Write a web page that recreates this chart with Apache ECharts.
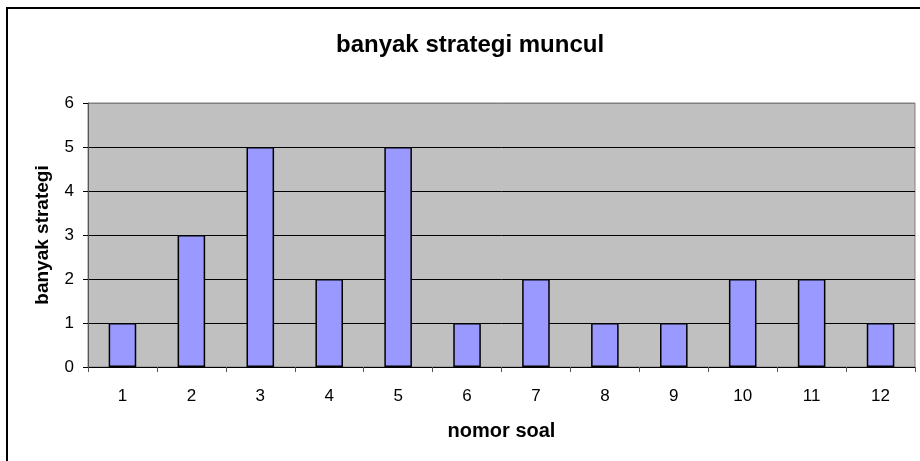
<!DOCTYPE html>
<html>
<head>
<meta charset="utf-8">
<script src="https://cdn.jsdelivr.net/npm/echarts@6/dist/echarts.min.js"></script>
<style>html,body{margin:0;padding:0;background:#fff}#c{width:920px;height:461px}</style>
</head>
<body>
<div id="c"></div>
<script>
const categories = ['1','2','3','4','5','6','7','8','9','10','11','12'];
const values = [1,3,5,2,5,1,2,1,1,2,2,1];
const yTicks = [0,1,2,3,4,5,6];
const chartTitle = 'banyak strategi muncul';
const xName = 'nomor soal';
const yName = 'banyak strategi';

const chart = echarts.init(document.getElementById('c'), null, {renderer: 'canvas'});
const font = 'Liberation Sans, Arial, sans-serif';
chart.setOption({
  animation: false,
  backgroundColor: '#fff',
  title: {
    text: chartTitle, left: 331, top: 28,
    textStyle: {fontFamily: font, fontWeight: 'bold', fontSize: 24, color: '#000'}
  },
  graphic: [{
    type: 'rect', shape: {x: 7, y: 8, width: 1000, height: 1000},
    style: {fill: 'none', stroke: '#000', lineWidth: 2}, z: 100
  }],
  grid: {left: 88, right: 5, top: 103, bottom: 94, show: true,
    backgroundColor: '#c0c0c0', borderColor: '#808080', borderWidth: 1},
  xAxis: {
    type: 'category', data: categories, boundaryGap: true,
    name: xName, nameLocation: 'middle', nameGap: 54, nameMoveOverlap: false,
    nameTextStyle: {fontFamily: font, fontWeight: 'bold', fontSize: 20, color: '#000'},
    axisLine: {lineStyle: {color: '#000', width: 1}},
    axisTick: {show: true, interval: 0, length: 5, lineStyle: {color: '#555'}},
    axisLabel: {fontFamily: font, fontSize: 17, color: '#000', margin: 21, interval: 0},
    splitLine: {show: false}
  },
  yAxis: {
    type: 'value', min: yTicks[0], max: yTicks[yTicks.length-1], interval: 1,
    name: yName, nameLocation: 'middle', nameGap: 36, nameMoveOverlap: false,
    nameTextStyle: {fontFamily: font, fontWeight: 'bold', fontSize: 19, color: '#000'},
    axisLine: {show: true, lineStyle: {color: '#555', width: 1}},
    axisTick: {show: true, length: 5, lineStyle: {color: '#000'}},
    axisLabel: {fontFamily: font, fontSize: 17, color: '#000', margin: 14},
    splitLine: {show: true, lineStyle: {color: ['#000','#000','#000','#000','#000','#000','#808080'], width: 1}}
  },
  series: [{
    type: 'bar', data: values, barWidth: '40%',
    itemStyle: {color: '#9999ff', borderColor: '#000', borderWidth: 1.5}
  }]
});
</script>
</body>
</html>
